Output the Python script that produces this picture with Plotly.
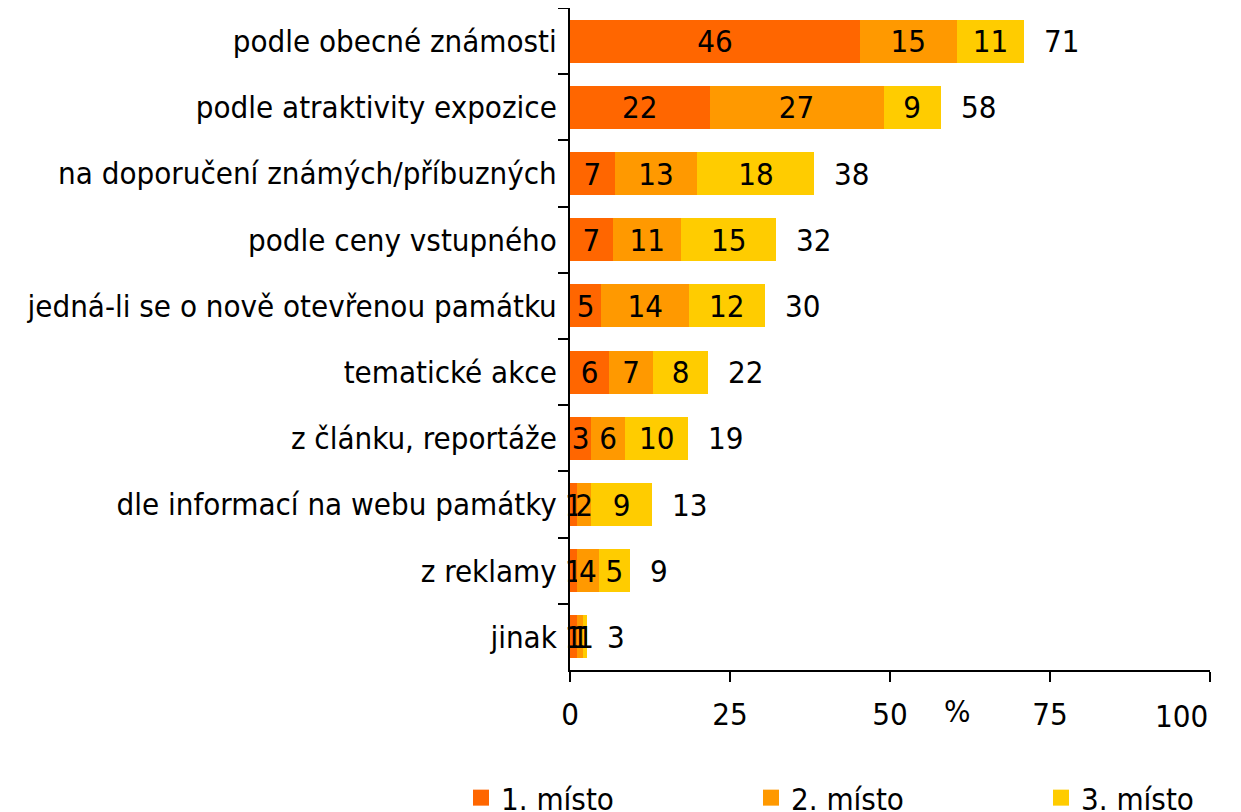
import plotly.graph_objects as go

categories = [
    "podle obecné známosti",
    "podle atraktivity expozice",
    "na doporučení známých/příbuzných",
    "podle ceny vstupného",
    "jedná-li se o nově otevřenou památku",
    "tematické akce",
    "z článku, reportáže",
    "dle informací na webu památky",
    "z reklamy",
    "jinak",
]
# bar lengths and their printed labels
first_vals = [45.3, 21.8, 7.0, 6.7, 4.9, 6.1, 3.3, 1.1, 1.1, 1.1]
second_vals = [15.1, 27.2, 12.9, 10.7, 13.7, 6.9, 5.3, 2.2, 3.4, 0.9]
third_vals = [10.6, 8.9, 18.3, 14.8, 11.8, 8.6, 9.9, 9.5, 4.9, 0.7]
first_labels = ["46", "22", "7", "7", "5", "6", "3", "1", "1", "1"]
second_labels = ["15", "27", "13", "11", "14", "7", "6", "2", "4", "1"]
third_labels = ["11", "9", "18", "15", "12", "8", "10", "9", "5", "1"]
total_labels = ["71", "58", "38", "32", "30", "22", "19", "13", "9", "3"]
series_names = ["1. místo", "2. místo", "3. místo"]
colors = ["#FF6600", "#FF9900", "#FFCC00"]
x_ticks = [0, 25, 50, 75, 100]
x_tick_labels = ["0", "25", "50", "75", "100"]

FONT = "DejaVu Sans Condensed"
FS = 31

fig = go.Figure()
for name, vals, labs, col in zip(series_names,
                                 [first_vals, second_vals, third_vals],
                                 [first_labels, second_labels, third_labels],
                                 colors):
    fig.add_trace(go.Bar(
        y=categories, x=vals, name=name, orientation="h",
        marker=dict(color=col, line=dict(width=0)),
        text=labs, textposition="inside", insidetextanchor="middle",
        constraintext="none", textangle=0,
        insidetextfont=dict(family=FONT, size=FS, color="black"),
        cliponaxis=False, showlegend=False,
    ))
    # legend entry with a larger square swatch
    fig.add_trace(go.Scatter(
        x=[None], y=[None], mode="markers", name=name,
        marker=dict(symbol="square", size=20, color=col),
        showlegend=True, hoverinfo="skip",
    ))

totals = [a + b + c for a, b, c in zip(first_vals, second_vals, third_vals)]
for cat, tot, lab in zip(categories, totals, total_labels):
    fig.add_annotation(x=tot, y=cat, text=lab, showarrow=False,
                       xanchor="left", xshift=18,
                       font=dict(family=FONT, size=FS, color="black"))

fig.add_annotation(x=60.6, y=-0.062, xref="x", yref="paper", text="%",
                   showarrow=False, xanchor="center", yanchor="middle",
                   font=dict(family=FONT, size=FS, color="black"))

# last tick label is pulled inside the chart, right-aligned to its tick
fig.add_annotation(x=x_ticks[-1], y=0, xref="x", yref="paper",
                   text=x_tick_labels[-1], showarrow=False,
                   xanchor="right", yanchor="top", yshift=-26,
                   font=dict(family=FONT, size=FS, color="black"))

fig.update_layout(
    barmode="stack", bargap=0.35,
    width=1233, height=804,
    margin=dict(l=562, r=31, t=0, b=142, autoexpand=False),
    paper_bgcolor="white", plot_bgcolor="white",
    font=dict(family=FONT, size=FS, color="black"),
    legend=dict(orientation="h", x=(453 - 562) / 640, xref="paper", xanchor="left",
                y=(662 - 790) / 662, yref="paper", yanchor="middle",
                entrywidth=245, entrywidthmode="pixels",
                font=dict(family=FONT, size=FS, color="black"),
                itemsizing="trace", traceorder="normal",
                bgcolor="rgba(0,0,0,0)", borderwidth=0),
    showlegend=True,
)
fig.update_xaxes(range=[0, 100], tickvals=x_ticks,
                 ticktext=x_tick_labels[:-1] + [""],
                 showgrid=False, zeroline=False,
                 showline=True, linecolor="black", linewidth=2,
                 ticks="outside", ticklen=10, tickcolor="black", tickwidth=2,
                 ticklabelstandoff=6,
                 tickfont=dict(family=FONT, size=FS, color="black"))
fig.update_yaxes(autorange="reversed", showgrid=False, zeroline=False,
                 showline=True, linecolor="black", linewidth=2,
                 ticks="outside", ticklen=10, tickcolor="black", tickwidth=2,
                 tickson="boundaries", ticklabelstandoff=5,
                 tickfont=dict(family=FONT, size=FS, color="black"))

fig.write_html("out.html")
